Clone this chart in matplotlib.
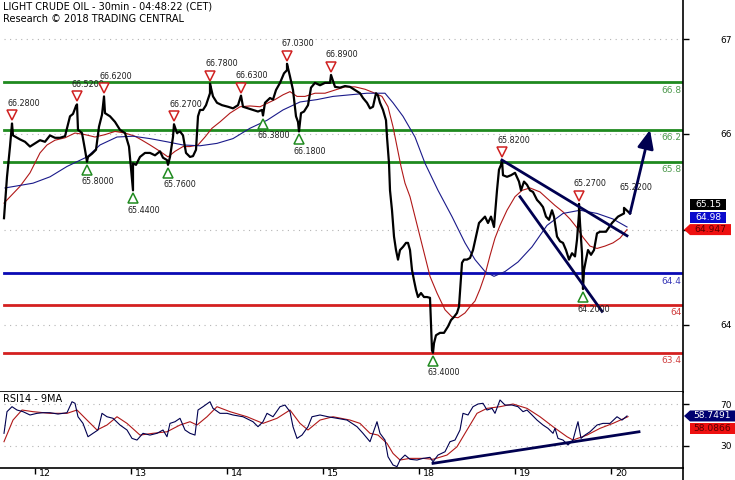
import numpy as np
import matplotlib.pyplot as plt
from matplotlib.patches import Polygon
from matplotlib.lines import Line2D
from matplotlib.transforms import offset_copy, IdentityTransform, blended_transform_factory

plt.rcParams['font.family'] = 'DejaVu Sans'

# time axis: hours since the "12" session tick (weekend skipped)
day_pos = [0, 24, 48, 72, 96, 120, 144]
day_labels = ['12', '13', '14', '15', '18', '19', '20']

price_h = [-7.75, -7, -6.25, -5.5, -3.75, -2.5, -1.25, 0, 1.25, 2.5, 3.75, 5, 6.25, 7.5,
           8.75, 9.5, 10.25, 10.75, 11.75, 12.5, 13.25, 14.25, 15.25, 16, 16.75, 17.5, 18.75, 20, 21.25, 22.5, 23.5,
           24.5, 25.25, 26.25, 27.5, 28.75, 30, 31.25, 32, 33, 33.75, 34.5, 35.5, 36.25, 37, 37.75, 38.75, 39.5,
           40.25, 40.75, 41.25, 42, 42.75, 43.75, 44.5, 45.5, 46.75,
           48.25, 49.5, 50.75, 52, 53.25, 54.5, 55.75, 56.75, 57.5, 58.75, 59.5, 60.25, 61.25, 62.25, 63, 63.75,
           64.5, 65.25, 65.75, 66.5, 67.25, 68.25, 69, 70, 71.25,
           72.5, 73.75, 75, 76.25, 77.5, 78.75, 80, 81.25, 82, 83, 83.75, 84.5, 85.25, 85.75, 86.25, 87, 87.75,
           88, 88.5, 88.75, 89.25, 89.75, 90.25, 90.75, 91.25, 92, 92.75, 93.25, 93.75, 94.25, 94.75, 95.25, 95.75,
           96.5, 97.25, 98, 98.75, 99.25, 99.75, 100.25, 101.25, 102.25, 103.25, 104, 104.75, 105.5, 106, 106.75,
           107.25, 108, 108.75, 109.5, 110.25, 111, 111.75, 112.5, 113.25, 114, 114.75, 115.5, 116, 116.5, 117,
           118, 119,
           120, 121, 121.5, 122.25, 123, 123.75, 124.5, 125.5, 126.25, 127, 127.75, 128.5, 129.25, 129.75, 130.5,
           131.25, 132, 132.75, 133.5, 134.25, 135, 135.5, 136, 136.25, 136.75, 137.25, 137.75, 138.25, 139,
           139.75, 140.5, 141.25, 142.75, 144.25, 145, 145.75, 146.5, 147.25, 148.75]
price_v = [65.09, 65.61, 65.99, 66.13, 66.08, 66.05, 65.99, 66.03, 66.07, 66.05, 66.13, 66.10, 66.10, 66.12,
           66.37, 66.40, 66.50, 66.20, 66.16, 65.95, 65.86, 65.90, 65.95, 66.24, 66.39, 66.41, 66.37, 66.30, 66.20, 66.16, 65.99,
           65.78, 65.76, 65.86, 65.91, 65.91, 65.88, 65.93, 65.85, 65.82, 65.86, 66.11, 66.16, 66.18, 66.13, 65.91, 65.86, 65.87,
           65.95, 66.37, 66.45, 66.45, 66.51, 66.66, 66.62, 66.54, 66.51,
           66.49, 66.47, 66.51, 66.49, 66.47, 66.45, 66.43, 66.45, 66.54, 66.60, 66.58, 66.70, 66.79, 66.91, 66.95, 66.87,
           66.70, 66.37, 66.30, 66.41, 66.43, 66.51, 66.73, 66.79, 66.76,
           66.79, 66.79, 66.74, 66.73, 66.75, 66.74, 66.70, 66.66, 66.60, 66.54, 66.47, 66.49, 66.66, 66.63, 66.54, 66.45, 66.32,
           66.11, 65.78, 65.44, 65.19, 64.86, 64.69, 64.57, 64.69, 64.73, 64.78, 64.78, 64.69, 64.44, 64.31, 64.19, 64.10,
           64.15, 64.10, 64.10, 64.09, 63.43, 63.52, 63.62, 63.65, 63.65, 63.73, 63.81, 63.85, 63.90, 63.98, 64.53,
           64.57, 64.57, 64.59, 64.69, 64.86, 65.03, 65.07, 65.11, 65.03, 65.11, 64.98, 65.44, 65.70, 65.76, 65.63,
           65.61, 65.63,
           65.66, 65.55, 65.44, 65.55, 65.51, 65.44, 65.42, 65.32, 65.28, 65.23, 65.11, 65.07, 65.19, 65.11, 64.86,
           64.80, 64.78, 64.69, 64.57, 64.65, 64.61, 64.82, 65.15, 65.03, 64.65, 64.44, 64.57, 64.69, 64.63,
           64.69, 64.90, 64.92, 64.92, 65.03, 65.07, 65.11, 65.13, 65.15, 65.15]

ma_red_h = [-7.75, -3.75, -1.25, 1.25, 3, 5, 7.5, 10, 12.5, 15, 17.5, 20, 22.5, 25, 26.75, 28.75, 31.25, 33.25,
            35, 37, 38.75, 40.75, 42.5, 44.25, 46.25, 48.75, 51.25, 53.75, 56.25, 58.75, 60, 62, 63.75, 65.5,
            67.5, 70, 72.5, 75, 77.5, 80, 82.5, 85, 86.75, 88.25, 89.5, 90.5, 91.5, 92.5, 93.75, 95, 96.25,
            97.5, 98.75, 100.5, 102.5, 104.25, 105.75, 107.5, 108.75, 110, 111.25, 112.5, 113.75, 115, 116.25,
            118, 120, 121.75, 123.75, 126.25, 128, 130, 132, 133.75, 135.5, 137, 138.75, 140.5, 142.5, 144.5,
            146.25, 148]
ma_red_v = [65.28, 65.49, 65.66, 65.91, 66.01, 66.07, 66.10, 66.16, 66.14, 66.11, 66.14, 66.18, 66.16, 66.12, 66.07,
            66.01, 65.93, 65.86, 65.93, 65.99, 65.99, 66.01, 66.11, 66.22, 66.30, 66.41, 66.49, 66.50, 66.49,
            66.55, 66.58, 66.64, 66.68, 66.62, 66.62, 66.66, 66.66, 66.70, 66.74, 66.74, 66.71, 66.66, 66.62,
            66.49, 66.24, 65.99, 65.74, 65.53, 65.36, 65.11, 64.86, 64.61, 64.36, 64.15, 63.94, 63.85, 63.84,
            63.90, 63.98, 64.05, 64.20, 64.38, 64.62, 64.84, 65.00, 65.19, 65.36, 65.44, 65.47, 65.42, 65.34,
            65.25, 65.17, 65.08, 64.97, 64.85, 64.74, 64.71, 64.74, 64.78, 64.84, 64.947]

ma_blue_h = [-7.5, -0.5, 3.75, 8, 13, 16.25, 20.5, 24.5, 28.75, 33, 37, 41.25, 45.5, 49.5, 53.75, 58, 62, 66.25,
             70.5, 74.5, 78.75, 83, 87.5, 89.5, 92, 95, 97.5, 100.75, 104.25, 107.5, 110, 112.5, 114.75, 117.5,
             120.75, 124.25, 128, 132, 136.25, 140.5, 144.5, 148]
ma_blue_v = [65.47, 65.53, 65.61, 65.74, 65.86, 66.01, 66.11, 66.12, 66.09, 66.05, 66.01, 66.00, 66.03, 66.09, 66.22,
             66.32, 66.45, 66.55, 66.58, 66.62, 66.64, 66.66, 66.66, 66.54, 66.37, 66.11, 65.78, 65.44, 65.11,
             64.78, 64.57, 64.42, 64.36, 64.42, 64.54, 64.73, 65.00, 65.15, 65.19, 65.15, 65.08, 64.98]

# support / resistance levels
level_v = [66.8, 66.2, 65.8, 64.4, 64.0, 63.4]
level_txt = ['66.8', '66.2', '65.8', '64.4', '64', '63.4']
level_col = ['#1f8a1f', '#1f8a1f', '#1f8a1f', '#0a0ab4', '#d42020', '#d42020']
level_lab = ['#4f9a4f', '#4f9a4f', '#4f9a4f', '#3a3ab8', '#d04040', '#d04040']

# pivot highs / lows
piv_h = [-5.75, 10.5, 17.25, 13, 24.5, 34.75, 33.25, 43.75, 51.5, 57, 63, 66, 74, 99.5, 116.75, 136, 137, 147.25]
piv_v = [66.28, 66.52, 66.62, 65.80, 65.44, 66.27, 65.76, 66.78, 66.63, 66.38, 67.03, 66.18, 66.89, 63.40,
         65.82, 65.27, 64.20, 65.22]
piv_kind = ['H', 'H', 'H', 'L', 'L', 'H', 'L', 'H', 'H', 'L', 'H', 'L', 'H', 'L', 'H', 'H', 'L', 'T']

# wedge and projection
wedge_top = [(116.75, 65.82), (148.0, 64.87)]
wedge_bot = [(121.25, 65.36), (141.75, 63.92)]
target = (153.75, 66.2)

grid_levels = [67.34, 66.15, 64.94, 63.75]
grid_labels = ['67', '66', '', '64']

rsi_h = [-7.75, -7, -5.75, -4.5, -3, -1.25, 0.5, 2, 3.75, 5.75, 8, 9.25, 10, 10.75, 12, 13.25, 14.5, 15.75,
         16.75, 18, 19.5, 21.25, 23, 24.25, 25.5, 27, 28.75, 30.5, 32, 33, 33.75, 35, 36.25, 37.5, 38.75, 40,
         40.75, 42, 43.75, 44.5, 46.25, 48, 49.5, 52, 54.5, 55.75, 57, 58, 59.5, 61.25, 62.5, 63.75, 64.5,
         65.5, 66.75, 68.25, 69.25, 71.25, 73.25, 75.5, 78, 80.5, 82, 83.75, 85.5, 86.25, 87.5, 88.25, 89.5,
         90.5, 91.25, 92.5, 93.75, 95.5, 97, 98.75, 99.5, 100.75, 102.5, 103.75, 105, 106.25, 107, 108.25,
         109.5, 110.75, 112, 113, 114.25, 115, 116.25, 117.5, 119.25, 120.75, 122, 123, 124.25, 125.5, 127,
         128.25, 129.5, 130, 130.75, 132, 133.25, 134.5, 135.5, 135.75, 136.5, 137.5, 138.75, 140.5, 142,
         143.75, 145.5, 146.75, 148]
rsi_v = [42, 62.9, 67.7, 64.5, 62.9, 59.7, 61.3, 61.9, 61.9, 60.6, 61.9, 72.5, 71, 58, 51.6, 38.7, 42, 45.2,
         61.3, 58, 56.5, 50, 45.2, 37.1, 35.5, 42, 40.3, 42, 45.2, 38.7, 51.6, 53.2, 56.5, 45.2, 42, 40.3,
         64.5, 67.7, 72.5, 66.1, 61.3, 61.3, 59.7, 58, 53.2, 48.4, 53.2, 61.3, 58, 67.7, 69.3, 62.9, 48.4,
         37.1, 40.3, 48.4, 58, 59.7, 58, 56.5, 54.8, 48.4, 42, 33.9, 53.2, 42, 35.5, 19.4, 11.4,
         9.8, 16.2, 21, 16.9, 16.2, 17.8, 18.8, 14.5, 21, 24.2, 33.9, 35.5, 45.2, 61.3, 59.7,
         67.7, 70.3, 71, 64.5, 66.1, 61.3, 74.2, 69.3, 69.3, 67.7, 62.9, 64.5, 59.7, 54.8, 50,
         46.8, 42, 46.8, 37.1, 35.5, 30.7, 35.5, 50, 53.2, 37.1, 40.3, 43.5, 50, 51.6,
         51.6, 58, 54.8, 58.75]
rsi_ma_h = [-7.75, -5.5, -3.25, -0.5, 3.75, 8, 10.5, 13, 15.5, 18, 20.5, 23, 26.25, 29.5, 33, 36.25, 38.75,
            40.5, 43, 45.5, 48.75, 53, 57, 60.5, 63.75, 66.25, 68.25, 71.25, 74.5, 78.75, 81.25, 83.75, 85.75,
            88, 89.5, 91.25, 93.75, 97, 99.5, 103, 105.5, 108, 110.5, 113, 116.25, 119.5, 123, 126.25, 129.5,
            133, 134.5, 138, 141.25, 144.5, 148.25]
rsi_ma_v = [33.9, 54.8, 64.5, 62.9, 61.3, 61.3, 64.5, 54.8, 45.2, 50, 58, 51.6, 40.3, 42, 43.5, 50, 53.2,
            50, 58, 67.7, 62.9, 58, 51.6, 56.5, 64.5, 51.6, 45.2, 54.8, 58, 54.8, 51.6, 42, 40.3,
            32.3, 22.6, 16.2, 17.8, 17.8, 16.9, 21, 29, 45.2, 61.3, 66.1, 67.7, 70.3, 66.1, 58, 48.4,
            38.7, 35.5, 40.3, 46.8, 51.6, 58.09]
rsi_trend = [(99.5, 13.0), (151.0, 43.5)]

NAVY = '#000050'
W, H = 735, 480

fig = plt.figure(figsize=(W / 100, H / 100), dpi=100)
ax = fig.add_axes([0, 88 / H, 683 / W, 392 / H])
rx = fig.add_axes([0, 12 / H, 683 / W, 76 / H], sharex=ax)

ax.set_xlim(-8.75, 162)
ax.set_ylim(62.907, 67.831)
rx.set_ylim(8.5, 81.9)

for a in (ax, rx):
    a.spines['top'].set_visible(False)
    a.spines['left'].set_visible(False)
    a.spines['right'].set_linewidth(1.2)
    a.spines['bottom'].set_linewidth(1.2)
    a.yaxis.tick_right()
    a.tick_params(axis='y', direction='out', length=4, width=1, pad=23, labelsize=6.5)
fig.add_artist(Line2D([683 / W, 683 / W], [0, 12 / H], transform=fig.transFigure, color='black', lw=1.2))

# dotted grid
for g in grid_levels:
    ax.axhline(g, xmin=0.006, color='#b4b4b4', lw=0.8, ls=(0, (1, 4)), zorder=0)
for g in [70, 50, 30]:
    rx.axhline(g, xmin=0.006, color='#b4b4b4', lw=0.8, ls=(0, (1, 4)), zorder=0)
ax.set_yticks(grid_levels, grid_labels)
rx.set_yticks([70, 30], ['70', '30'])

# levels
lvl_tr = blended_transform_factory(ax.transAxes, ax.transData)
for v, t, c, lc in zip(level_v, level_txt, level_col, level_lab):
    ax.axhline(v, xmin=0.006, color=c, lw=2, zorder=1)
    ax.annotate(t, xy=(1, v), xycoords=lvl_tr, xytext=(-1, -2.5), textcoords='offset points',
                ha='right', va='top', fontsize=6.5, color=lc)

# moving averages
ax.plot(ma_red_h, ma_red_v, color='#b01818', lw=0.8, zorder=2)
ax.plot(ma_blue_h, ma_blue_v, color='#1a1a8a', lw=0.8, zorder=2)

# price with pivot extremes as wicks
pts = sorted(zip(price_h + piv_h, price_v + piv_v))
ax.plot([p[0] for p in pts], [p[1] for p in pts], color='black', lw=1.6, zorder=3)

# wedge + projection arrow
ax.plot(*zip(*wedge_top), color=NAVY, lw=2, zorder=4)
ax.plot(*zip(*wedge_bot), color=NAVY, lw=2, zorder=4)
ax.annotate('', xy=target, xytext=(price_h[-1], price_v[-1]),
            arrowprops=dict(arrowstyle='-|>,head_length=0.8,head_width=0.35', color=NAVY, lw=2,
                            mutation_scale=14, shrinkA=0, shrinkB=0), zorder=4)

# pivot markers and labels
for h, v, k in zip(piv_h, piv_v, piv_kind):
    s = 1 if k in ('H', 'T') else -1
    if k == 'H':
        ax.plot(h, v, marker='v', ms=7, mfc='white', mec='#d02020', mew=1.1,
                transform=offset_copy(ax.transData, fig=fig, y=8, units='dots'), zorder=5)
    elif k == 'L':
        ax.plot(h, v, marker='^', ms=7, mfc='white', mec='#1f8a1f', mew=1.1,
                transform=offset_copy(ax.transData, fig=fig, y=-8, units='dots'), zorder=5)
    ax.text(h, v, f'{v:.4f}', fontsize=5.8, color='#202020', ha='left', va='center',
            transform=offset_copy(ax.transData, fig=fig, x=-5, y=20 * s, units='dots'), zorder=5)

ax.tick_params(axis='x', bottom=False, labelbottom=False)

# RSI panel
rx.plot(rsi_ma_h, rsi_ma_v, color='#b01818', lw=0.8, zorder=2)
rx.plot(rsi_h, rsi_v, color=NAVY, lw=0.8, zorder=3)
rx.plot(*zip(*rsi_trend), color=NAVY, lw=2, zorder=4)
rx.text(0.004, 0.905, 'RSI14 - 9MA', transform=rx.transAxes, fontsize=7, va='center', ha='left')
rx.set_xticks(day_pos)
rx.tick_params(axis='x', direction='out', length=4.5, width=1, labelbottom=False)
day_tr = blended_transform_factory(rx.transData, rx.transAxes)
for p, lab in zip(day_pos, day_labels):
    rx.text(p, 0, lab, fontsize=6.8, ha='left', va='center',
            transform=offset_copy(day_tr, fig=fig, x=4, y=-6, units='dots'), clip_on=False)

# title
fig.text(3 / W, 1 - 6.5 / H, 'LIGHT CRUDE OIL - 30min - 04:48:22 (CET)', fontsize=7, va='center', ha='left')
fig.text(3 / W, 1 - 18.5 / H, 'Research \u00a9 2018 TRADING CENTRAL', fontsize=7, va='center', ha='left')


def tag(y, text, fc, tc, x1, pointer):
    x0, hh = 690, 5.5
    verts = [(x0, y + hh), (x1, y + hh), (x1, y - hh), (x0, y - hh)]
    if pointer:
        verts.append((684, y))
    fig.add_artist(Polygon(verts, closed=True, transform=IdentityTransform(),
                           facecolor=fc, edgecolor='none', zorder=5))
    fig.text((x0 + x1) / 2 / W, y / H, text, fontsize=6.6, color=tc, ha='center', va='center', zorder=6)


y_red = ax.transData.transform((0, ma_red_v[-1]))[1]
tag(y_red, '64.947', '#ee1010', '#5a0000', 731, True)
tag(y_red + 12.5, '64.98', '#0a0acc', 'white', 726, False)
tag(y_red + 25, '65.15', 'black', 'white', 726, False)

y_rsi = rx.transData.transform((0, rsi_v[-1]))[1]
tag(y_rsi, '58.7491', '#000070', 'white', 735, True)
tag(y_rsi - 13, '58.0866', '#ee1010', '#5a0000', 735, False)

fig.savefig('out.png', dpi=100)
